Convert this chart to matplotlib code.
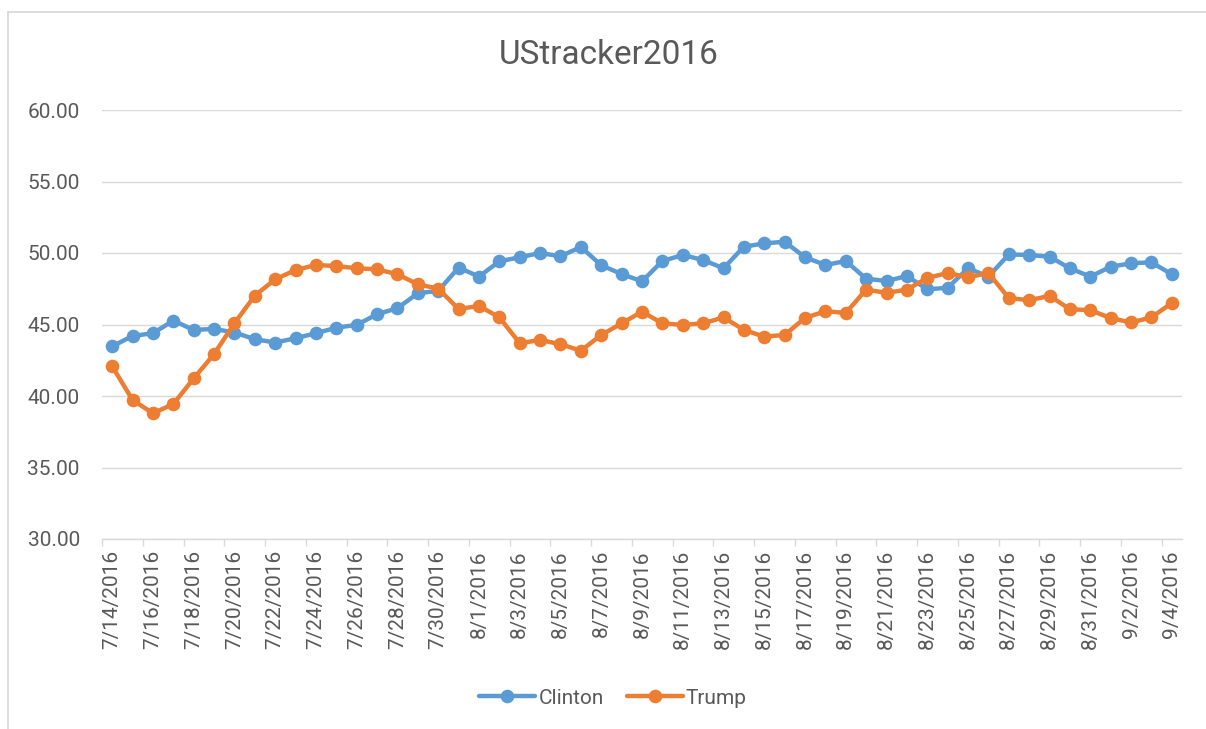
import matplotlib
matplotlib.use("Agg")
import matplotlib.pyplot as plt
from matplotlib.lines import Line2D
from matplotlib.ticker import FixedLocator, FormatStrFormatter

plt.rcParams['font.family'] = ['Roboto', 'DejaVu Sans']

dates = ['7/14/2016', '7/15/2016', '7/16/2016', '7/17/2016', '7/18/2016', '7/19/2016',
         '7/20/2016', '7/21/2016', '7/22/2016', '7/23/2016', '7/24/2016', '7/25/2016',
         '7/26/2016', '7/27/2016', '7/28/2016', '7/29/2016', '7/30/2016', '7/31/2016',
         '8/1/2016', '8/2/2016', '8/3/2016', '8/4/2016', '8/5/2016', '8/6/2016',
         '8/7/2016', '8/8/2016', '8/9/2016', '8/10/2016', '8/11/2016', '8/12/2016',
         '8/13/2016', '8/14/2016', '8/15/2016', '8/16/2016', '8/17/2016', '8/18/2016',
         '8/19/2016', '8/20/2016', '8/21/2016', '8/22/2016', '8/23/2016', '8/24/2016',
         '8/25/2016', '8/26/2016', '8/27/2016', '8/28/2016', '8/29/2016', '8/30/2016',
         '8/31/2016', '9/1/2016', '9/2/2016', '9/3/2016', '9/4/2016']

clinton = [43.47, 44.20, 44.39, 45.27, 44.62, 44.69, 44.44, 43.97, 43.74, 44.04,
           44.39, 44.78, 44.97, 45.72, 46.14, 47.19, 47.35, 48.98, 48.35, 49.42,
           49.70, 50.00, 49.77, 50.42, 49.14, 48.53, 48.02, 49.44, 49.86, 49.51,
           48.93, 50.44, 50.67, 50.79, 49.70, 49.16, 49.44, 48.20, 48.04, 48.39,
           47.46, 47.57, 48.93, 48.35, 49.90, 49.86, 49.74, 48.93, 48.35, 49.04,
           49.28, 49.35, 48.51]

trump = [42.07, 39.72, 38.79, 39.44, 41.23, 42.93, 45.09, 47.02, 48.16, 48.81,
         49.16, 49.09, 48.93, 48.86, 48.51, 47.81, 47.51, 46.08, 46.30, 45.50,
         43.69, 43.92, 43.62, 43.17, 44.27, 45.08, 45.90, 45.08, 44.97, 45.08,
         45.50, 44.62, 44.15, 44.27, 45.46, 45.93, 45.81, 47.44, 47.21, 47.44,
         48.26, 48.60, 48.30, 48.60, 46.85, 46.70, 47.00, 46.07, 46.00, 45.45,
         45.14, 45.50, 46.50]

series_names = ['Clinton', 'Trump']
series_colors = ['#5B9BD5', '#ED7D31']
title = 'UStracker2016'
y_ticks = [30, 35, 40, 45, 50, 55, 60]

W, H = 1206, 729
fig = plt.figure(figsize=(W / 100, H / 100), dpi=100)
fig.patch.set_facecolor('white')

ax = fig.add_axes([102 / W, 1 - 539 / H, (1182 - 102) / W, (539 - 110) / H])

x = list(range(len(dates)))
for vals, name, col in zip([clinton, trump], series_names, series_colors):
    ax.plot(x, vals, color=col, lw=3.2, marker='o', markersize=9.8,
            markeredgewidth=0, label=name, solid_capstyle='round', zorder=3)

ax.set_xlim(-0.5, len(dates) - 0.5)
ax.set_ylim(30, 60)
ax.set_yticks(y_ticks)
ax.yaxis.set_major_formatter(FormatStrFormatter('%.2f'))
ax.grid(axis='y', color='#D9D9D9', lw=1.0, zorder=0)
ax.set_axisbelow(True)

for s in ['left', 'right', 'top']:
    ax.spines[s].set_visible(False)
ax.spines['bottom'].set_color('#D9D9D9')
ax.spines['bottom'].set_linewidth(1.0)

text_col = '#595959'
ax.tick_params(axis='y', length=0, pad=16, labelsize=15, labelcolor=text_col)

lab_pos = x[::2]
ax.xaxis.set_major_locator(FixedLocator(lab_pos))
ax.set_xticklabels([dates[i] for i in lab_pos], rotation=90, va='top', ha='center')
ax.tick_params(axis='x', which='major', length=0, pad=8, labelsize=15, labelcolor=text_col)
ax.xaxis.set_minor_locator(FixedLocator([p - 0.5 for p in lab_pos if p - 0.5 < len(dates) - 1]))
ax.tick_params(axis='x', which='minor', length=5, width=1.0, color='#D9D9D9')

fig.text(0.5045, 1 - 55 / H, title, ha='center', va='center', fontsize=24, color=text_col)

leg = fig.legend(loc='center', bbox_to_anchor=(613 / W, 1 - 698 / H), ncol=2,
                 frameon=False, fontsize=15, labelcolor=text_col,
                 handlelength=2.7, handletextpad=0.15, columnspacing=1.1)

# chart area border (cropped on right/bottom)
fig.add_artist(Line2D([7.5 / W, 7.5 / W], [0, 1 - 11.5 / H], transform=fig.transFigure,
                      color='#D9D9D9', lw=1.3))
fig.add_artist(Line2D([7.5 / W, 1], [1 - 11.5 / H, 1 - 11.5 / H], transform=fig.transFigure,
                      color='#D9D9D9', lw=1.3))

fig.savefig('out.png', dpi=100)
